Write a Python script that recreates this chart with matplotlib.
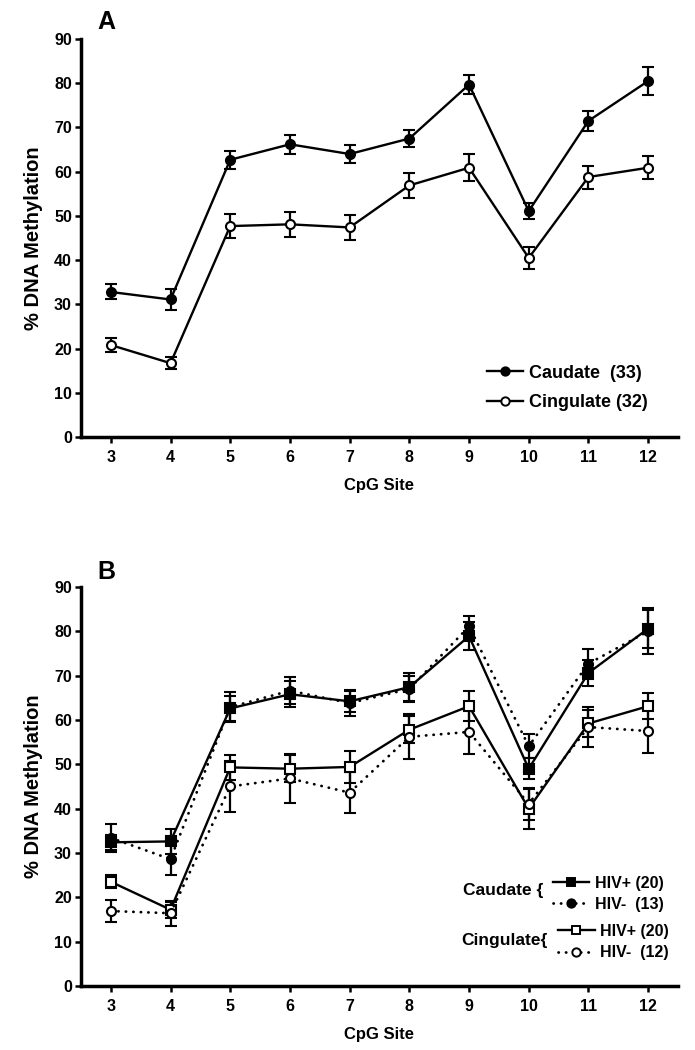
import matplotlib
matplotlib.use("Agg")
import matplotlib.pyplot as plt
from matplotlib.lines import Line2D
import numpy as np

# ── Data ─────────────────────────────────────────────────────────────────────
SITES = [3, 4, 5, 6, 7, 8, 9, 10, 11, 12]

# Panel A
caudate_mean = [32.8, 31.1, 62.7, 66.2, 64.0, 67.5, 79.7, 51.1, 71.5, 80.5]
caudate_sem = [1.7, 2.3, 2.0, 2.1, 2.0, 2.0, 2.2, 1.9, 2.3, 3.2]
cingulate_mean = [20.8, 16.7, 47.7, 48.1, 47.4, 56.9, 60.9, 40.5, 58.8, 60.9]
cingulate_sem = [1.6, 1.3, 2.8, 2.8, 2.9, 2.9, 3.0, 2.5, 2.6, 2.6]

# Panel B
caud_pos_mean = [32.4, 32.6, 62.6, 65.8, 64.2, 67.4, 78.9, 49.0, 70.6, 80.6]
caud_pos_sem = [1.7, 2.9, 2.8, 2.9, 2.3, 3.1, 3.2, 2.4, 3.0, 4.3]
caud_neg_mean = [33.4, 28.6, 62.9, 66.6, 63.8, 67.0, 81.1, 54.1, 72.7, 80.0]
caud_neg_sem = [3.2, 3.5, 3.3, 3.1, 3.0, 3.0, 2.3, 2.7, 3.4, 5.2]
cing_pos_mean = [23.5, 17.2, 49.3, 49.0, 49.4, 57.8, 63.1, 40.0, 59.2, 63.1]
cing_pos_sem = [1.5, 1.8, 2.9, 3.0, 3.6, 3.1, 3.4, 4.5, 3.1, 2.9]
cing_neg_mean = [16.9, 16.4, 45.0, 46.8, 43.6, 56.2, 57.3, 41.1, 58.4, 57.5]
cing_neg_sem = [2.5, 2.8, 5.7, 5.6, 4.7, 5.1, 4.9, 3.6, 4.5, 4.9]

YTICKS = np.arange(0, 100, 10)

FONT = "Liberation Sans"
plt.rcParams["font.family"] = [FONT, "DejaVu Sans"]
plt.rcParams["font.weight"] = "bold"

DOTTED = (0, (0.1, 2.6))


def series(ax, y, err, marker, filled, ls):
    face = "black" if filled else "white"
    ax.errorbar(SITES, y, yerr=err, color="black", ls=ls,
                lw=1.7 if ls == "-" else 2.0,
                marker=marker, ms=6.5, mfc=face, mec="black", mew=1.5,
                ecolor="black", elinewidth=1.6, capsize=4, capthick=1.6,
                dash_capstyle="round")


def handle(marker, filled, ls="-"):
    face = "black" if filled else "white"
    return Line2D([], [], color="black", lw=1.7 if ls == "-" else 2.0, ls=ls,
                  marker=marker, ms=6, mfc=face, mec="black", mew=1.4,
                  dash_capstyle="round")


def style_axes(ax):
    ax.set_xlim(2.5, 12.5)
    ax.set_ylim(0, 90)
    ax.set_xticks(SITES)
    ax.set_yticks(YTICKS)
    for s in ["top", "right"]:
        ax.spines[s].set_visible(False)
    for s in ["left", "bottom"]:
        ax.spines[s].set_linewidth(2.5)
    ax.tick_params(direction="out", length=4.5, width=1.8, labelsize=11.5)
    ax.tick_params(axis="x", pad=5)
    ax.tick_params(axis="y", pad=2)
    for lbl in ax.get_xticklabels() + ax.get_yticklabels():
        lbl.set_fontweight("bold")
    ax.set_xlabel("CpG Site", fontsize=12, fontweight="bold", labelpad=9)
    ax.set_ylabel("% DNA Methylation", fontsize=14.5, fontweight="bold", labelpad=8)


fig = plt.figure(figsize=(6.95, 10.5), dpi=100)
axA = fig.add_axes([0.1165, 0.5838, 0.859, 0.379])
axB = fig.add_axes([0.1165, 0.061, 0.859, 0.380])

# ── Panel A ──────────────────────────────────────────────────────────────────
series(axA, caudate_mean, caudate_sem, "o", True, "-")
series(axA, cingulate_mean, cingulate_sem, "o", False, "-")
style_axes(axA)
axA.text(0.027, 1.012, "A", transform=axA.transAxes, fontsize=18,
         fontweight="bold", ha="left", va="bottom")

axA.legend([handle("o", True), handle("o", False)],
           ["Caudate  (33)", "Cingulate (32)"], loc="center left",
           bbox_to_anchor=(0.68, 0.123), frameon=False,
           handlelength=2.0, handletextpad=0.35, labelspacing=0.7,
           borderpad=0, borderaxespad=0, numpoints=1,
           prop={"family": FONT, "weight": "bold", "size": 13})

# ── Panel B ──────────────────────────────────────────────────────────────────
series(axB, caud_pos_mean, caud_pos_sem, "s", True, "-")
series(axB, caud_neg_mean, caud_neg_sem, "o", True, DOTTED)
series(axB, cing_pos_mean, cing_pos_sem, "s", False, "-")
series(axB, cing_neg_mean, cing_neg_sem, "o", False, DOTTED)
style_axes(axB)
axB.text(0.027, 1.007, "B", transform=axB.transAxes, fontsize=18,
         fontweight="bold", ha="left", va="bottom")

legC = axB.legend([handle("s", True), handle("o", True, DOTTED)],
                  ["HIV+ (20)", "HIV-  (13)"], loc="center left",
                  bbox_to_anchor=(0.79, 0.231), frameon=False,
                  handlelength=2.3, handletextpad=0.33, labelspacing=0.4,
                  borderpad=0, borderaxespad=0, numpoints=1,
                  prop={"family": FONT, "weight": "bold", "size": 11.5})
axB.add_artist(legC)
axB.legend([handle("s", False), handle("o", False, DOTTED)],
           ["HIV+ (20)", "HIV-  (12)"], loc="center left",
           bbox_to_anchor=(0.799, 0.110), frameon=False,
           handlelength=2.3, handletextpad=0.33, labelspacing=0.4,
           borderpad=0, borderaxespad=0, numpoints=1,
           prop={"family": FONT, "weight": "bold", "size": 11.5})
axB.text(0.774, 0.238, "Caudate {", transform=axB.transAxes, fontsize=12.5,
         fontweight="bold", ha="right", va="center")
axB.text(0.782, 0.115, "Cingulate{", transform=axB.transAxes, fontsize=12.5,
         fontweight="bold", ha="right", va="center")

fig.savefig("out.png", dpi=100, facecolor="white")
